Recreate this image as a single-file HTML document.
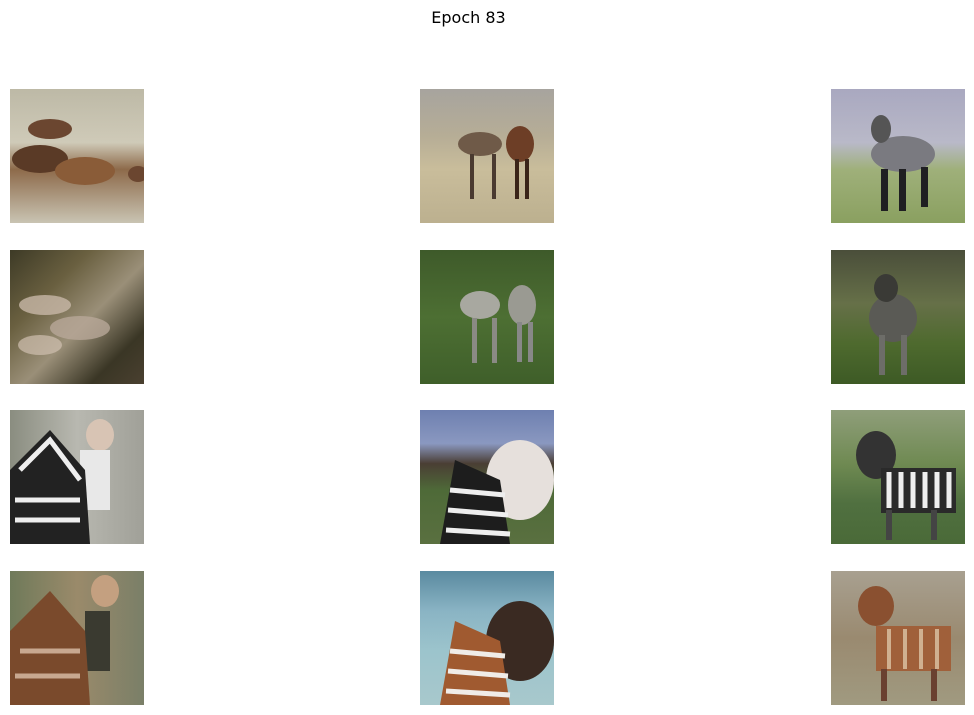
<!DOCTYPE html>
<html><head><meta charset="utf-8">
<style>
html,body{margin:0;padding:0;background:#fff;}
#wrap{position:relative;width:974px;height:715px;overflow:hidden;font-family:"DejaVu Sans","Liberation Sans",sans-serif;}
#title{position:absolute;top:8px;left:0;width:937px;text-align:center;font-size:16px;color:#000;}
.tile{position:absolute;width:134px;height:134px;overflow:hidden;}
.tile svg{display:block}
</style></head>
<body>
<div id="wrap">
<div id="title">Epoch 83</div>

<div class="tile" style="left:10px;top:89px;background:linear-gradient(#bdb9a6,#cfcab8 40%,#8d6a4a 60%,#c9c4b3)">
<svg width="134" height="134"><ellipse cx="40" cy="40" rx="22" ry="10" fill="#6b4630"/><ellipse cx="30" cy="70" rx="28" ry="14" fill="#5a3a26"/><ellipse cx="75" cy="82" rx="30" ry="14" fill="#8a5c38"/><ellipse cx="128" cy="85" rx="10" ry="8" fill="#6b4630"/></svg></div>
<div class="tile" style="left:420px;top:89px;background:linear-gradient(#a7a49e,#b6ad96 35%,#c9bd9b 60%,#bcb08f)">
<svg width="134" height="134"><ellipse cx="60" cy="55" rx="22" ry="12" fill="#6f5a48"/><ellipse cx="100" cy="55" rx="14" ry="18" fill="#6d3e26"/><rect x="50" y="65" width="4" height="45" fill="#4a3a30"/><rect x="72" y="65" width="4" height="45" fill="#4a3a30"/><rect x="95" y="70" width="4" height="40" fill="#3a2418"/><rect x="105" y="70" width="4" height="40" fill="#3a2418"/></svg></div>
<div class="tile" style="left:831px;top:89px;background:linear-gradient(#a9a8c0,#b9b9c8 40%,#9fb07a 60%,#8aa060)">
<svg width="134" height="134"><ellipse cx="72" cy="65" rx="32" ry="18" fill="#7a7a80"/><ellipse cx="50" cy="40" rx="10" ry="14" fill="#555"/><rect x="50" y="80" width="7" height="42" fill="#1f1f22"/><rect x="68" y="80" width="7" height="42" fill="#1f1f22"/><rect x="90" y="78" width="7" height="40" fill="#1f1f22"/></svg></div>

<div class="tile" style="left:10px;top:250px;background:linear-gradient(135deg,#3d3a26,#6a6040 30%,#9a8f78 55%,#3a3625 80%,#4a4030)">
<svg width="134" height="134"><ellipse cx="35" cy="55" rx="26" ry="10" fill="#c8b8a8" opacity=".8"/><ellipse cx="70" cy="78" rx="30" ry="12" fill="#b8a898" opacity=".8"/><ellipse cx="30" cy="95" rx="22" ry="10" fill="#d0c0b0" opacity=".7"/></svg></div>
<div class="tile" style="left:420px;top:250px;background:linear-gradient(#3e5a2a,#4d6f33 50%,#3f5f2a)">
<svg width="134" height="134"><ellipse cx="60" cy="55" rx="20" ry="14" fill="#a8a8a0"/><ellipse cx="102" cy="55" rx="14" ry="20" fill="#9a9a92"/><rect x="52" y="68" width="5" height="45" fill="#8a8a84"/><rect x="72" y="68" width="5" height="45" fill="#8a8a84"/><rect x="97" y="72" width="5" height="40" fill="#888"/><rect x="108" y="72" width="5" height="40" fill="#888"/></svg></div>
<div class="tile" style="left:831px;top:250px;background:linear-gradient(#4a4e3a,#667048 40%,#4e6a2e 70%,#3d5a25)">
<svg width="134" height="134"><ellipse cx="62" cy="68" rx="24" ry="24" fill="#5a5a55"/><ellipse cx="55" cy="38" rx="12" ry="14" fill="#3a3a36"/><rect x="48" y="85" width="6" height="40" fill="#6d6d68"/><rect x="70" y="85" width="6" height="40" fill="#6d6d68"/></svg></div>

<div class="tile" style="left:10px;top:410px;background:linear-gradient(90deg,#8a8d80,#b8b8b0 50%,#a0a098)">
<svg width="134" height="134"><ellipse cx="90" cy="25" rx="14" ry="16" fill="#d8c4b4"/><rect x="70" y="40" width="30" height="60" fill="#e8e8e8"/><path d="M0 60 L40 20 L75 60 L80 134 L0 134Z" fill="#222"/><path d="M10 60 L40 30 L70 70" stroke="#eee" stroke-width="5" fill="none"/><path d="M5 90 L70 90" stroke="#eee" stroke-width="5"/><path d="M5 110 L70 110" stroke="#eee" stroke-width="5"/></svg></div>
<div class="tile" style="left:420px;top:410px;background:linear-gradient(#6e80b0,#8a98c0 25%,#4a3e34 40%,#4e6a38 60%,#5a7040)">
<svg width="134" height="134"><ellipse cx="100" cy="70" rx="34" ry="40" fill="#e6e0dc"/><path d="M20 134 L35 50 L80 70 L90 134Z" fill="#1d1d1d"/><path d="M30 80 L85 85 M28 100 L88 105 M26 120 L90 124" stroke="#eee" stroke-width="5"/></svg></div>
<div class="tile" style="left:831px;top:410px;background:linear-gradient(#8f9e7a,#6f8a52 40%,#507040 70%,#4a6a38)">
<svg width="134" height="134"><ellipse cx="45" cy="45" rx="20" ry="24" fill="#333"/><rect x="50" y="58" width="75" height="45" fill="#2a2a2a"/><path d="M58 62 v36 M70 62 v36 M82 62 v36 M94 62 v36 M106 62 v36 M118 62 v36" stroke="#eee" stroke-width="5"/><rect x="55" y="100" width="6" height="30" fill="#444"/><rect x="100" y="100" width="6" height="30" fill="#444"/></svg></div>

<div class="tile" style="left:10px;top:571px;background:linear-gradient(90deg,#6f7a5a,#9a8a6a 50%,#7a7f68)">
<svg width="134" height="134"><ellipse cx="95" cy="20" rx="14" ry="16" fill="#c4a080"/><rect x="75" y="40" width="25" height="60" fill="#3a3a30"/><path d="M0 60 L40 20 L75 60 L80 134 L0 134Z" fill="#7a4a2c"/><path d="M10 80 L70 80 M5 105 L70 105" stroke="#c8a890" stroke-width="5"/></svg></div>
<div class="tile" style="left:420px;top:571px;background:linear-gradient(#5a8aa0,#8ab4c4 30%,#9cc4cc 60%,#a8c8cc)">
<svg width="134" height="134"><ellipse cx="100" cy="70" rx="34" ry="40" fill="#3a2a22"/><path d="M20 134 L35 50 L80 70 L90 134Z" fill="#a05a30"/><path d="M30 80 L85 85 M28 100 L88 105 M26 120 L90 124" stroke="#f0ece8" stroke-width="5"/></svg></div>
<div class="tile" style="left:831px;top:571px;background:linear-gradient(#a8a090,#9a8a70 50%,#a09a80)">
<svg width="134" height="134"><ellipse cx="45" cy="35" rx="18" ry="20" fill="#8a5030"/><rect x="45" y="55" width="75" height="45" fill="#a0603a"/><path d="M58 58 v40 M74 58 v40 M90 58 v40 M106 58 v40" stroke="#d0b090" stroke-width="4"/><rect x="50" y="98" width="6" height="32" fill="#6a4030"/><rect x="100" y="98" width="6" height="32" fill="#6a4030"/></svg></div>
</div>
</body></html>
